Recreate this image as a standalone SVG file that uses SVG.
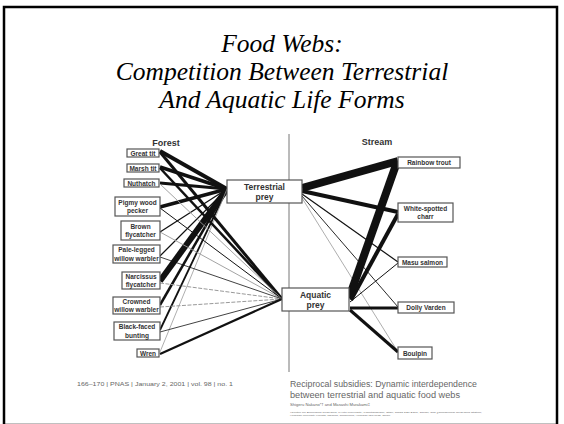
<svg xmlns="http://www.w3.org/2000/svg" width="564" height="424" viewBox="0 0 564 424">
<style>
.title{font-family:"Liberation Serif","Times New Roman",Times,"DejaVu Serif",serif;font-style:italic;font-size:25.5px;fill:#000;text-anchor:middle}
.hdr{font-family:"Liberation Sans",sans-serif;font-weight:bold;font-size:9px;fill:#333;text-anchor:middle}
.box{fill:#fff;stroke:#555;stroke-width:1.2}
.lbl{font-family:"Liberation Sans",sans-serif;font-weight:bold;font-size:6.5px;fill:#333;text-anchor:middle}
.prey{font-family:"Liberation Sans",sans-serif;font-weight:bold;font-size:8.5px;fill:#333;text-anchor:middle}
.c{stroke:#111;fill:none;stroke-linecap:butt}
.g{stroke:#999;fill:none}
.ref{font-family:"Liberation Sans",sans-serif;fill:#666}
</style>
<rect x="4" y="7" width="553" height="418" fill="#fff" stroke="#000" stroke-width="2.5"/>
<text class="title" x="282" y="52">Food Webs:</text>
<text class="title" x="282" y="80">Competition Between Terrestrial</text>
<text class="title" x="282" y="108">And Aquatic Life Forms</text>
<text class="hdr" x="166" y="146">Forest</text>
<text class="hdr" x="377" y="145">Stream</text>
<line x1="289" y1="134" x2="289" y2="372" stroke="#777" stroke-width="1"/>
<g id="connectors">
<line class="c" x1="160" y1="151" x2="227" y2="189" stroke-width="4"/>
<line class="c" x1="160" y1="167" x2="227" y2="189" stroke-width="3.5"/>
<line class="c" x1="160" y1="183" x2="227" y2="189" stroke-width="3"/>
<line class="c" x1="160" y1="207" x2="227" y2="189" stroke-width="3.5"/>
<line class="c" x1="160" y1="232" x2="227" y2="189" stroke-width="1.3"/>
<line class="c" x1="160" y1="256" x2="227" y2="189" stroke-width="1.2"/>
<line class="c" x1="160" y1="281" x2="227" y2="189" stroke-width="6"/>
<line class="c" x1="160" y1="305" x2="227" y2="189" stroke-width="2.5"/>
<line class="c" x1="160" y1="330" x2="227" y2="189" stroke-width="1.8"/>
<line class="g" x1="160" y1="352" x2="227" y2="189" stroke-width="0.8"/>
<line class="c" x1="160" y1="152" x2="282" y2="299" stroke-width="3"/>
<line class="c" x1="160" y1="168" x2="282" y2="299" stroke-width="2.5"/>
<line class="g" x1="160" y1="184" x2="282" y2="299" stroke-width="0.9"/>
<line class="c" x1="160" y1="208" x2="282" y2="299" stroke-width="1"/>
<line class="g" x1="160" y1="232" x2="282" y2="299" stroke-width="0.9"/>
<line class="c" x1="160" y1="257" x2="282" y2="299" stroke-width="0.8"/>
<line class="g" x1="160" y1="283" x2="282" y2="299" stroke-width="1" stroke-dasharray="4 1.5"/>
<line class="g" x1="160" y1="307" x2="282" y2="299" stroke-width="1" stroke-dasharray="4 1.5"/>
<line class="c" x1="160" y1="332" x2="282" y2="299" stroke-width="0.8" stroke="#555"/>
<line class="c" x1="160" y1="354" x2="282" y2="299" stroke-width="2.2"/>
<line class="c" x1="302" y1="188" x2="398" y2="161" stroke-width="8"/>
<line class="c" x1="302" y1="191" x2="398" y2="212" stroke-width="4"/>
<line class="c" x1="302" y1="194" x2="398" y2="262" stroke-width="1.2"/>
<line class="c" x1="302" y1="196" x2="398" y2="307" stroke-width="0.9" stroke="#444"/>
<line class="g" x1="302" y1="198" x2="398" y2="352" stroke-width="0.8"/>
<line class="c" x1="349" y1="298" x2="397" y2="162" stroke-width="8"/>
<line class="c" x1="351" y1="300" x2="398" y2="214" stroke-width="4"/>
<line class="c" x1="350" y1="302" x2="398" y2="263" stroke-width="1" stroke="#444"/>
<line class="c" x1="350" y1="308" x2="398" y2="308" stroke-width="3"/>
<line class="c" x1="350" y1="310" x2="398" y2="352" stroke-width="3"/>
</g>
<g id="great-tit"><rect class="box" x="127" y="149" width="32" height="8"/><text class="lbl" x="143" y="155.5">Great tit</text></g>
<g id="marsh-tit"><rect class="box" x="127" y="164" width="32" height="8"/><text class="lbl" x="143" y="170.5">Marsh tit</text></g>
<g id="nuthatch"><rect class="box" x="124" y="179" width="35" height="8"/><text class="lbl" x="141.5" y="185.5">Nuthatch</text></g>
<g id="pigmy"><rect class="box" x="115" y="197" width="45" height="19"/><text class="lbl" x="137.5" y="204.5">Pigmy wood</text><text class="lbl" x="137.5" y="213">pecker</text></g>
<g id="brown"><rect class="box" x="121" y="221" width="39" height="19"/><text class="lbl" x="140.5" y="228.5">Brown</text><text class="lbl" x="140.5" y="237">flycatcher</text></g>
<g id="pale"><rect class="box" x="113" y="245" width="47" height="18"/><text class="lbl" x="136.5" y="252">Pale-legged</text><text class="lbl" x="136.5" y="260.5">willow warbler</text></g>
<g id="narcissus"><rect class="box" x="122" y="272" width="38" height="17"/><text class="lbl" x="141" y="279">Narcissus</text><text class="lbl" x="141" y="287">flycatcher</text></g>
<g id="crowned"><rect class="box" x="113" y="297" width="47" height="17"/><text class="lbl" x="136.5" y="304">Crowned</text><text class="lbl" x="136.5" y="312">willow warbler</text></g>
<g id="bunting"><rect class="box" x="114" y="322" width="46" height="18"/><text class="lbl" x="137" y="329">Black-faced</text><text class="lbl" x="137" y="338">bunting</text></g>
<g id="wren"><rect class="box" x="137" y="349" width="22" height="8"/><text class="lbl" x="148" y="355.5">Wren</text></g>
<g id="terrestrial-prey"><rect class="box" x="227" y="180" width="75" height="23"/><text class="prey" x="264.5" y="189.5">Terrestrial</text><text class="prey" x="264.5" y="199.5">prey</text></g>
<g id="aquatic-prey"><rect class="box" x="282" y="288" width="67" height="23"/><text class="prey" x="315.5" y="297.5">Aquatic</text><text class="prey" x="315.5" y="307.5">prey</text></g>
<g id="rainbow"><rect class="box" x="398" y="157" width="62" height="11"/><text class="lbl" x="429" y="165">Rainbow trout</text></g>
<g id="charr"><rect class="box" x="398" y="203" width="55" height="19"/><text class="lbl" x="425.5" y="210.5">White-spotted</text><text class="lbl" x="425.5" y="219">charr</text></g>
<g id="masu"><rect class="box" x="398" y="257" width="49" height="10"/><text class="lbl" x="422.5" y="264.5">Masu salmon</text></g>
<g id="dolly"><rect class="box" x="398" y="302" width="56" height="11"/><text class="lbl" x="426" y="310">Dolly Varden</text></g>
<g id="boulpin"><rect class="box" x="398" y="347" width="34" height="12"/><text class="lbl" x="415" y="355.5">Boulpin</text></g>
<text class="ref" x="77" y="386" font-size="5" textLength="156" lengthAdjust="spacingAndGlyphs">166–170  |  PNAS  |  January 2, 2001  |  vol. 98  |  no. 1</text>
<text class="ref" x="290" y="387" font-size="8.5" textLength="187" lengthAdjust="spacingAndGlyphs">Reciprocal subsidies: Dynamic interdependence</text>
<text class="ref" x="290" y="398" font-size="8.5" textLength="170" lengthAdjust="spacingAndGlyphs">between terrestrial and aquatic food webs</text>
<text class="ref" x="290" y="406" font-size="3.5" textLength="80" lengthAdjust="spacingAndGlyphs">Shigeru Nakano*† and Masashi Murakami‡</text>
<text class="ref" x="290" y="412.5" font-size="2.5" textLength="192" lengthAdjust="spacingAndGlyphs">*Center for Ecological Research, Kyoto University, Kamitanakami, Otsu, Shiga 520-2113, Japan; and ‡Tomakomai Research Station,</text>
<text class="ref" x="290" y="416" font-size="2.5" textLength="100" lengthAdjust="spacingAndGlyphs">Hokkaido University Forests, Takaoka, Tomakomai, Hokkaido 053-0035, Japan</text>
</svg>
